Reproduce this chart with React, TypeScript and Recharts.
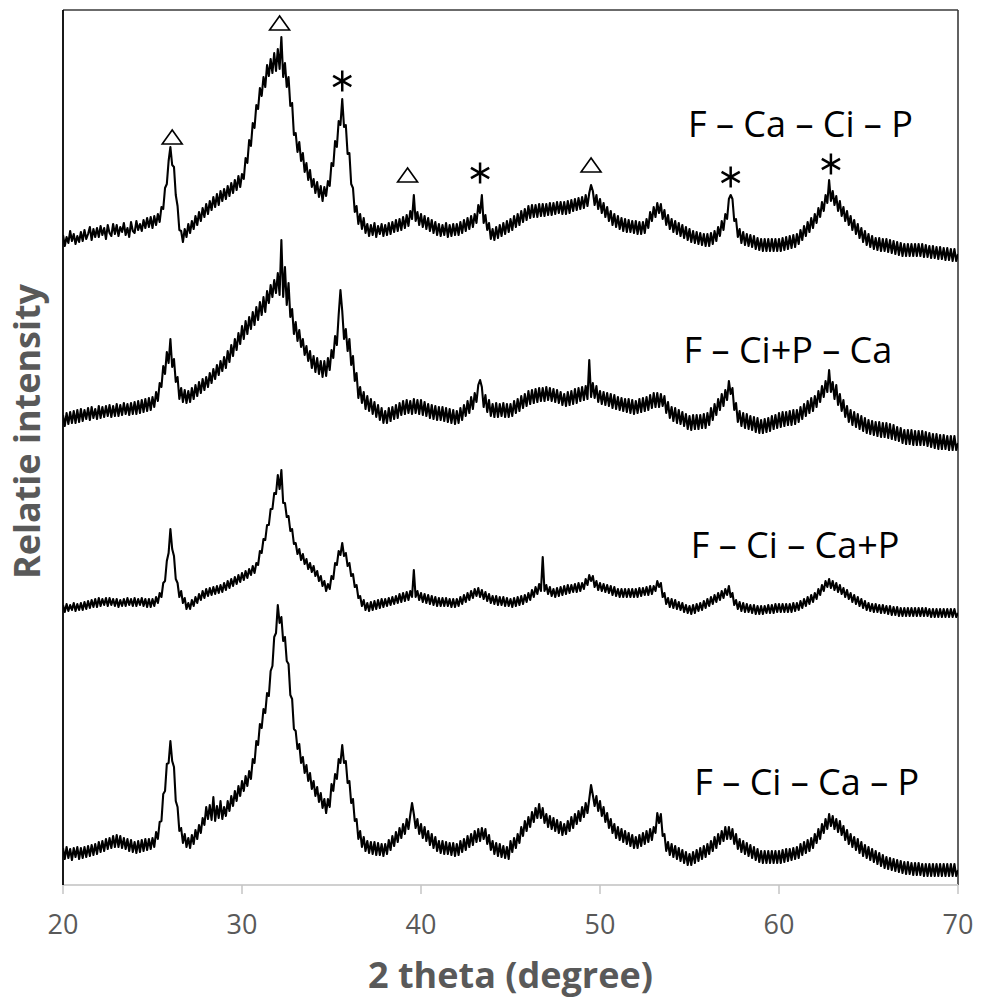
import React from 'react';
import { ComposedChart, Line, Scatter, XAxis, YAxis, ReferenceLine } from 'recharts';

// Sampling grid of the diffractograms (2 theta, degree)
const THETA_START = 20;
const THETA_STEP = 0.1;
const twoTheta: number[] = Array.from({ length: 501 }, (_, i) => +(THETA_START + i * THETA_STEP).toFixed(1));

const xTicks = [20, 30, 40, 50, 60, 70];

// Stacked relative intensities (arbitrary units, offset included).
// One row per degree (x.0 ... x.9).
const fCaCiP = [
650,639,648,642,654,644,651,641,649,643,
653,644,655,646,651,658,645,656,648,657,
648,659,650,657,646,660,652,649,661,651,
660,649,658,653,662,650,657,648,663,654,
652,664,655,661,654,665,657,667,658,668,
657,669,660,671,663,678,676,697,701,724,
738,720,718,690,679,655,654,643,656,648,
661,652,664,656,669,660,673,664,677,668,
681,671,684,675,688,678,691,680,694,684,
696,686,699,689,702,692,705,695,709,698,
711,706,727,722,745,739,762,757,780,776,
797,789,808,798,820,809,826,812,832,814,
836,816,848,808,822,798,808,779,782,750,
752,733,743,724,732,713,722,705,715,698,
706,692,703,688,699,684,698,689,704,699,
722,719,744,738,764,760,786,758,760,731,
732,701,697,673,679,661,671,656,667,652,
661,649,660,650,662,648,659,651,661,649,
660,650,662,651,663,653,665,654,666,655,
668,657,670,659,674,666,690,664,673,660,
671,658,669,656,667,654,665,652,663,650,
661,649,660,650,662,648,660,649,661,650,
661,650,663,652,665,654,667,656,669,658,
671,662,680,672,690,662,670,655,662,646,
656,645,658,647,660,649,662,651,664,653,
666,655,669,658,671,660,674,663,676,665,
679,667,680,668,680,668,681,669,681,669,
681,670,682,670,682,671,683,672,683,671,
683,671,684,672,685,674,686,675,687,676,
688,677,690,679,692,700,694,680,690,676,
686,672,682,668,678,664,674,660,671,658,
669,656,667,654,666,653,665,653,664,652,
664,651,663,651,663,652,666,657,673,664,
678,668,682,672,681,666,675,660,670,656,
666,653,664,651,662,649,660,647,658,645,
656,643,654,642,653,641,652,640,651,639,
651,639,652,641,654,644,658,649,664,655,
671,666,686,690,686,664,666,648,656,642,
653,640,651,639,650,638,649,636,647,635,
646,634,646,634,646,634,646,634,646,634,
646,634,647,635,648,636,649,637,650,638,
651,641,655,645,659,649,663,653,667,657,
671,662,677,668,683,674,690,682,705,684,
694,680,689,674,684,669,678,664,674,660,
669,655,665,651,661,647,657,643,654,640,
651,638,649,636,647,635,647,634,646,634,
646,633,645,632,644,631,643,630,642,629,
641,629,641,629,641,629,641,629,641,629,
641,628,640,628,639,627,639,627,638,626,
638,626,637,625,637,625,636,624,636,624,
631];

const fCiPCa = [
470,459,472,461,473,462,474,462,475,463,
476,464,475,466,477,465,478,467,476,466,
479,467,478,468,479,469,480,468,479,469,
481,469,480,470,482,471,481,470,482,471,
483,471,484,472,485,473,486,474,487,475,
488,478,493,484,502,498,519,511,533,522,
546,518,526,503,508,486,497,483,495,482,
494,483,497,486,500,489,503,492,506,495,
508,498,512,502,516,506,520,510,524,514,
528,517,534,523,540,529,546,535,552,541,
559,546,564,551,568,556,573,560,578,565,
583,570,588,573,594,582,600,588,605,592,
612,590,645,588,618,580,602,568,576,551,
563,544,555,538,546,530,539,524,534,517,
529,513,527,511,524,508,524,509,527,515,
535,527,549,540,570,595,574,546,556,534,
546,520,529,504,512,487,498,482,493,476,
489,474,486,471,483,468,480,465,477,462,
474,462,477,464,478,466,480,467,482,470,
484,471,485,472,484,471,486,472,485,471,
485,470,483,469,481,467,480,466,479,465,
478,465,478,464,477,463,476,462,475,461,
474,462,477,465,480,469,484,472,488,476,
492,483,500,505,498,478,490,473,485,469,
481,468,482,468,481,469,482,468,481,468,
481,469,484,472,486,474,489,477,491,479,
494,481,495,482,496,483,497,484,497,484,
498,485,497,484,496,483,495,482,493,480,
491,479,493,480,494,481,496,482,497,484,
498,485,499,486,525,488,502,487,499,483,
494,481,493,480,492,479,491,477,490,476,
488,475,487,474,486,473,486,472,485,471,
484,472,486,473,487,474,488,475,490,477,
492,478,492,478,491,479,489,472,483,467,
478,464,477,462,475,461,473,459,471,456,
469,455,470,456,470,456,470,457,471,457,
472,460,477,465,481,470,486,475,491,479,
495,485,504,491,497,475,482,463,474,459,
472,457,471,456,469,455,468,453,467,452,
465,452,466,453,467,454,469,456,470,457,
472,458,473,459,473,460,474,460,475,461,
475,463,478,466,481,469,484,472,487,474,
489,478,494,483,499,488,504,493,515,493,
503,486,500,480,491,474,485,468,479,463,
475,460,473,458,471,456,469,454,467,452,
465,451,464,450,463,449,463,448,462,448,
462,447,461,446,460,445,458,444,457,442,
455,441,455,441,455,440,454,440,454,440,
454,440,453,439,452,438,451,437,451,436,
450,436,450,436,449,435,449,435,449,435,
442];

const fCiCaP = [
280,273,281,274,280,275,282,274,281,275,
282,275,283,276,284,277,285,278,286,278,
287,279,286,280,287,279,287,280,286,279,
286,278,285,279,286,279,287,280,286,279,
287,279,286,280,287,279,286,278,286,278,
286,279,288,282,292,288,302,304,324,332,
356,336,329,306,302,288,294,282,287,276,
282,276,285,279,288,282,291,285,294,287,
296,289,297,290,298,291,299,292,300,293,
302,295,304,297,306,299,308,301,310,303,
312,305,314,307,316,310,319,312,322,320,
334,332,346,345,360,360,376,376,392,391,
410,396,415,382,382,368,369,354,356,341,
342,331,336,325,331,321,326,316,322,313,
319,309,314,304,309,299,304,294,301,296,
309,306,322,320,334,330,342,329,332,319,
322,309,311,298,300,287,289,279,285,275,
282,274,283,275,284,276,285,277,286,278,
286,279,287,280,288,281,289,282,291,283,
292,284,293,285,294,288,315,288,294,285,
292,283,291,282,290,281,289,280,288,279,
287,279,287,279,287,279,286,278,286,278,
286,279,288,281,290,283,292,285,294,287,
296,289,297,288,295,286,293,284,291,282,
289,281,289,280,288,280,288,279,287,279,
286,278,287,279,288,280,289,281,290,283,
292,285,295,288,298,291,301,294,328,294,
300,291,298,289,296,288,297,289,298,290,
299,291,300,292,300,293,301,293,302,294,
302,296,306,300,310,304,309,298,304,295,
302,294,301,293,300,292,299,290,298,289,
296,288,296,288,296,288,296,288,296,288,
296,288,297,289,297,290,298,290,299,291,
299,294,304,298,302,288,292,281,287,278,
286,277,285,276,283,275,282,273,280,272,
279,271,280,272,281,274,282,275,284,277,
286,279,288,281,290,283,292,285,294,287,
296,290,299,288,292,280,285,276,283,274,
282,273,281,273,280,272,280,271,279,271,
279,271,279,272,280,272,280,272,281,273,
281,273,281,273,281,273,281,273,282,274,
282,275,284,277,286,279,288,281,290,283,
292,286,296,290,300,294,304,298,306,297,
304,295,302,293,300,291,297,288,295,286,
292,283,290,281,288,279,286,277,284,275,
282,274,281,273,281,273,280,272,280,272,
279,271,279,270,278,270,278,269,277,269,
277,269,277,269,277,269,277,269,277,269,
277,269,277,269,276,268,276,268,276,268,
276,268,276,268,276,268,276,268,276,268,
272];

const fCiCaPSeq = [
37,26,38,27,36,25,37,28,38,26,
37,27,38,28,39,29,40,30,41,31,
43,33,44,34,46,36,47,37,49,38,
50,38,49,37,47,36,46,34,45,33,
43,32,44,33,45,34,46,35,46,36,
47,38,53,46,63,64,91,94,121,122,
144,124,118,84,78,54,57,42,51,38,
47,37,50,41,55,46,60,52,67,60,
78,66,80,65,88,64,79,67,84,66,
78,69,84,74,89,79,94,84,99,89,
104,94,109,99,114,106,126,122,144,140,
161,157,176,172,192,189,214,219,248,252,
280,262,268,244,248,224,221,190,186,156,
154,136,141,122,128,112,120,104,112,96,
104,89,98,83,92,77,86,72,86,78,
101,94,111,106,126,122,140,122,124,102,
104,82,86,64,66,46,54,38,48,34,
44,32,43,31,43,30,42,30,41,29,
41,31,45,35,49,39,53,43,57,47,
61,51,66,56,70,82,71,57,66,51,
61,47,58,44,54,40,51,37,48,34,
44,32,44,31,43,31,42,30,42,29,
41,30,44,33,46,35,49,38,51,40,
54,43,56,44,57,46,56,41,50,35,
44,31,42,29,41,28,39,27,38,26,
44,33,47,37,51,42,58,49,64,54,
68,58,73,63,77,67,81,67,77,62,
71,58,69,56,67,54,65,52,63,50,
61,51,64,54,68,57,71,61,74,64,
78,68,82,72,86,100,90,79,89,74,
84,69,78,63,72,57,66,52,61,47,
58,45,56,43,54,41,52,39,50,37,
48,37,50,39,52,41,54,43,56,45,
58,52,72,62,71,49,51,34,43,30,
41,28,39,26,37,24,35,22,33,20,
31,20,33,22,35,24,37,26,39,28,
41,31,44,34,48,37,51,41,54,44,
58,46,58,46,56,41,51,36,46,33,
44,31,42,29,40,27,38,25,36,23,
34,22,34,22,34,22,34,22,34,22,
34,22,35,23,36,24,36,25,37,26,
38,27,41,30,43,32,45,34,47,37,
51,42,56,46,61,52,66,56,71,59,
69,56,66,53,64,50,59,45,55,41,
51,38,48,35,46,32,43,29,40,27,
38,25,36,23,34,21,32,19,30,17,
28,16,27,15,26,14,25,13,24,12,
23,11,23,11,22,10,22,10,22,10,
21,9,21,9,21,9,21,9,21,9,
21,9,21,9,21,9,21,9,21,9,
15];

// Sample names and where they are written
const seriesNames = ['F – Ca – Ci – P', 'F – Ci+P – Ca', 'F – Ci – Ca+P', 'F – Ci – Ca – P'];
const labelTheta = [61.2, 60.5, 60.9, 61.55];
const labelHeight = [761, 535, 340, 103];

// Phase markers (△ and *)
const triangleTheta = [26.1, 32.1, 39.25, 49.5];
const triangleHeight = [748, 862, 710, 720];
const asteriskTheta = [35.6, 43.3, 57.3, 62.9];
const asteriskHeight = [804, 712, 708, 721];

const X_DOMAIN = [20, 70];
const Y_DOMAIN = [0, 875];

const toSeries = (vals: number[]) =>
  twoTheta.filter((_, i) => vals[i] != null).map((x, i) => ({ x, y: vals[i] }));
const allSeries = [fCaCiP, fCiPCa, fCiCaP, fCiCaPSeq].map(toSeries);

const labelPoints = seriesNames.map((name, i) => ({ x: labelTheta[i], y: labelHeight[i], name }));
const trianglePoints = triangleTheta.map((x, i) => ({ x, y: triangleHeight[i] }));
const asteriskPoints = asteriskTheta.map((x, i) => ({ x, y: asteriskHeight[i] }));

const GREY = '#595959';
const FONT = "'Open Sans', sans-serif";

const TriangleShape = (p: any) => {
  const { cx, cy } = p;
  if (cx == null || cy == null) return null;
  return (
    <polygon
      points={`${cx},${cy - 7} ${cx - 10},${cy + 7} ${cx + 10},${cy + 7}`}
      fill="none"
      stroke="#000"
      strokeWidth={1.6}
    />
  );
};

const AsteriskShape = (p: any) => {
  const { cx, cy } = p;
  if (cx == null || cy == null) return null;
  return (
    <g stroke="#000" strokeWidth={2.5}>
      <line x1={cx} y1={cy - 10.5} x2={cx} y2={cy + 10.5} />
      <line x1={cx - 9.1} y1={cy - 5.2} x2={cx + 9.1} y2={cy + 5.2} />
      <line x1={cx - 9.1} y1={cy + 5.2} x2={cx + 9.1} y2={cy - 5.2} />
    </g>
  );
};

const NameShape = (p: any) => {
  const { cx, cy, payload } = p;
  if (cx == null || cy == null) return null;
  return (
    <text x={cx} y={cy} dy="0.36em" textAnchor="middle" fontFamily={FONT} fontSize={36} fill="#000">
      {payload.name}
    </text>
  );
};

const XTitle = (props: any) => {
  const vb = props.viewBox || {};
  const x = vb.x + vb.width / 2;
  const y = vb.y + 103;
  return (
    <text x={x} y={y} textAnchor="middle" fontFamily={FONT} fontWeight="bold" fontSize={36} fill={GREY}>
      2 theta (degree)
    </text>
  );
};

const YTitle = (props: any) => {
  const vb = props.viewBox || {};
  const x = vb.x + 32;
  const y = vb.y + vb.height / 2 - 16;
  return (
    <text
      x={x}
      y={y}
      transform={`rotate(-90 ${x} ${y})`}
      textAnchor="middle"
      fontFamily={FONT}
      fontWeight="bold"
      fontSize={36}
      fill={GREY}
    >
      Relatie intensity
    </text>
  );
};

export default function App() {
  return (
    <div style={{ position: 'absolute', left: 0, top: 0, width: 981, height: 1001, background: '#fff' }}>
      <ComposedChart width={981} height={1001} margin={{ top: 10, right: 23, bottom: 0, left: 8 }}>
        <XAxis
          type="number"
          dataKey="x"
          domain={X_DOMAIN}
          ticks={xTicks}
          interval={0}
          allowDataOverflow
          height={116}
          tickSize={9}
          tickMargin={21}
          axisLine={{ stroke: '#d0d0d0', strokeWidth: 2 }}
          tickLine={{ stroke: '#c4c4c4', strokeWidth: 1.5 }}
          tick={{ fill: GREY, fontSize: 27, fontFamily: FONT }}
          label={XTitle}
        />
        <YAxis
          type="number"
          domain={Y_DOMAIN}
          allowDataOverflow
          width={55}
          tick={false}
          tickLine={false}
          axisLine={{ stroke: '#000', strokeWidth: 1.8 }}
          label={YTitle}
        />
        <ReferenceLine y={Y_DOMAIN[1]} stroke="#3a3a3a" strokeWidth={1.6} />
        <ReferenceLine x={X_DOMAIN[1]} stroke="#3a3a3a" strokeWidth={1.6} />
        {allSeries.map((data, i) => (
          <Line
            key={seriesNames[i]}
            name={seriesNames[i]}
            data={data}
            dataKey="y"
            type="linear"
            stroke="#000"
            strokeWidth={2.1}
            strokeLinejoin="round"
            dot={false}
            activeDot={false}
            isAnimationActive={false}
          />
        ))}
        <Scatter name="triangles" data={trianglePoints} dataKey="y" shape={TriangleShape} isAnimationActive={false} />
        <Scatter name="asterisks" data={asteriskPoints} dataKey="y" shape={AsteriskShape} isAnimationActive={false} />
        <Scatter name="names" data={labelPoints} dataKey="y" shape={NameShape} isAnimationActive={false} />
      </ComposedChart>
    </div>
  );
}
